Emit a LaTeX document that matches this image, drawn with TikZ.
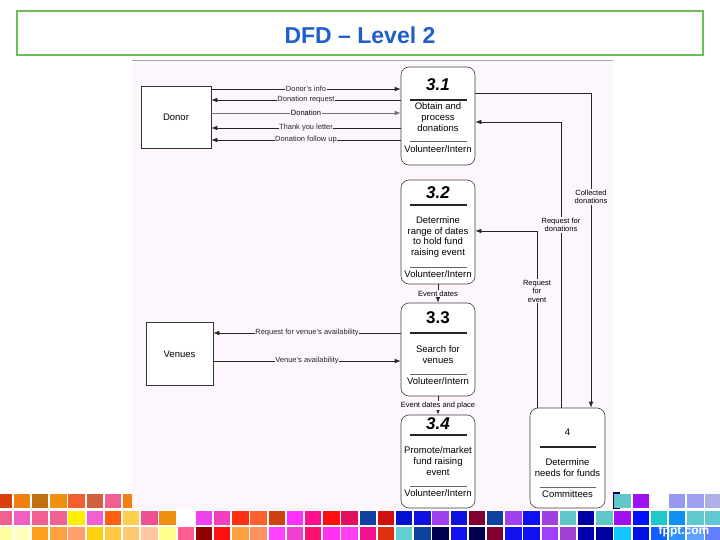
\documentclass[tikz,border=0pt]{standalone}
\usepackage{fontspec}
\setmainfont{Liberation Sans}
\usetikzlibrary{arrows.meta}
\definecolor{bg}{HTML}{FDF6FD}
\definecolor{titleblue}{HTML}{1F5FCC}
\definecolor{titlegreen}{HTML}{6CBF5A}
\definecolor{navy}{HTML}{000060}
\begin{document}
\begin{tikzpicture}[x=1pt,y=-1pt,
  extbox/.style={draw=black!80, line width=0.6pt, fill=white, minimum width=70pt, minimum height=62pt, inner sep=0pt, font=\fontsize{9.5}{11}\selectfont},
  procbox/.style={draw=black!75, line width=0.6pt, rounded corners=8pt, fill=white, minimum width=74pt, inner sep=0pt},
  pnum/.style={inner sep=0pt, font=\fontsize{17}{18}\selectfont\bfseries\itshape},
  ptext/.style={inner sep=0pt, align=center, font=\fontsize{9.5}{10.8}\selectfont},
  sepA/.style={line width=1.1pt, black!85},
  sepB/.style={line width=0.6pt, black!60},
  flow/.style={line width=0.6pt, black!85, -{Latex[length=6pt,width=4.5pt]}},
  lbl/.style={fill=bg, inner sep=0.6pt, align=center, font=\fontsize{7.5}{8.5}\selectfont},
  tile/.style={inner sep=0pt, minimum width=16.5pt, minimum height=14.5pt}
]
\useasboundingbox (0,0) rectangle (720,540);
\fill[white] (0,0) rectangle (720,540);

% ---------- mosaic ----------
\foreach \i/\c in {0/D84010,1/F08010,2/C07010,3/F09010,4/F06030,5/D06040,6/F06090,7/F08010}{
  \definecolor{tmpc}{HTML}{\c}
  \fill[tmpc] (-4.5+18.2*\i,494) rectangle ++(16.5,14);
}
\fill[navy] (612,492) rectangle (620,509);
\foreach \i/\c in {34/60C8C8,35/A010F0,36/FFFFFF,37/9898F0,38/A0A0F0,39/B0B0E8}{
  \definecolor{tmpc}{HTML}{\c}
  \fill[tmpc] (-4.5+18.2*\i,494) rectangle ++(16.5,14);
}
\foreach \i/\c in {0/F06090,1/F060C0,2/F06090,3/F06090,4/FFEE00,5/F060D0,6/FF6010,7/FFD050,8/F05090,9/F09010,
  10/FFFFFF,11/F040F0,12/F040C0,13/FF3010,14/FF6030,15/D04010,16/FF30FF,17/FF1090,18/FF1010,19/E01060,
  20/1040A0,21/D01010,22/0010D0,23/1010E0,24/A040F0,25/1010E0,26/800030,27/1040A0,28/A040F0,29/1010F0,
  30/A040E0,31/60C8C8,32/0000A0,33/60C8C8,34/A010F0,35/0010FF,36/20C8C8,37/1090F0,38/60C8D0,39/60C8D0}{
  \definecolor{tmpc}{HTML}{\c}
  \fill[tmpc] (-4.5+18.2*\i,510.5) rectangle ++(16.5,14.5);
}
\foreach \i/\c in {0/FFFFA0,1/FFFFC0,2/FFA020,3/FFA040,4/FFA070,5/FFD010,6/FFC840,7/FFC870,8/FFC8A0,9/FFFF90,
  10/FF6090,11/900000,12/FF1010,13/FFA040,14/FF9060,15/FF40FF,16/F040D0,17/FF1070,18/FF30F0,19/FF40F0,
  20/F01090,21/E03010,22/60D0D0,23/1040A0,24/000050,25/1010F0,26/000050,27/800030,28/1010F0,29/1010F0,
  30/A040FF,31/A040D0,32/0000B0,33/0000A0,34/10C8FF,35/0010E0,36/1060FF,37/3090FF,38/60A0FF,39/6080FF}{
  \definecolor{tmpc}{HTML}{\c}
  \fill[tmpc] (-4.5+18.2*\i,527) rectangle ++(16.5,14);
}
\node[inner sep=0pt, text=white, font=\fontsize{12}{13}\selectfont\bfseries] (fppt) at (684,531) {fppt.com};

% ---------- title ----------
\draw[titlegreen, line width=1.8pt] (17,11) rectangle (703,55);
\node[text=titleblue, font=\fontsize{23}{25}\selectfont\bfseries] (title) at (360,35.5) {DFD – Level 2};

% ---------- diagram background ----------
\fill[bg] (132,60) rectangle (613,509);
\draw[black!35, line width=1pt] (132,60.5) -- (613,60.5);

% ---------- external entities ----------
\node[extbox] (donor) at (176,117) {Donor};
\node[extbox, minimum width=67pt, minimum height=63pt] (venues) at (179.5,354) {Venues};

% ---------- processes ----------
% 3.1
\node[procbox, minimum height=98pt] (p31) at (438,116) {};
\node[pnum] (p31n) at (438,85) {3.1};
\draw[sepA] (410,100) -- (467,100);
\node[ptext] (p31t) at (438,117) {Obtain and\\process\\donations};
\draw[sepB] (410,141) -- (467,141);
\node[ptext] (p31v) at (438,149) {Volunteer/Intern};
% 3.2
\node[procbox, minimum height=104pt] (p32) at (438,232) {};
\node[pnum] (p32n) at (438,193) {3.2};
\draw[sepA] (410,205) -- (467,205);
\node[ptext] (p32t) at (438,237) {Determine\\range of dates\\to hold fund\\raising event};
\draw[sepB] (410,267) -- (467,267);
\node[ptext] (p32v) at (438,274) {Volunteer/Intern};
% 3.3
\node[procbox, minimum height=93pt] (p33) at (438,349.5) {};
\node[pnum, font=\fontsize{17}{18}\selectfont\bfseries] (p33n) at (438,318) {3.3};
\draw[sepA] (410,333) -- (467,333);
\node[ptext] (p33t) at (438,354.5) {Search for\\venues};
\draw[sepB] (410,374) -- (467,374);
\node[ptext] (p33v) at (438,381) {Voluteer/Intern};
% 3.4
\node[procbox, minimum height=93pt] (p34) at (438,461.5) {};
\node[pnum] (p34n) at (438,424) {3.4};
\draw[sepA] (410,435) -- (467,435);
\node[ptext] (p34t) at (438,461) {Promote/market\\fund raising\\event};
\draw[sepB] (410,486) -- (467,486);
\node[ptext] (p34v) at (438,493) {Volunteer/Intern};
% 4
\node[procbox, minimum width=75pt, minimum height=100pt] (p4) at (567.5,458) {};
\node[ptext] (p4n) at (567.5,432) {4};
\draw[sepA] (540,447) -- (596,447);
\node[ptext] (p4t) at (567.5,468) {Determine\\needs for funds};
\draw[sepB] (540,487) -- (596,487);
\node[ptext] (p4v) at (567.5,494) {Committees};

% ---------- donor flows ----------
\draw[flow] (donor.east |- 0,89) -- node[lbl] (l1) {Donor's info} (p31.west |- 0,89);
\draw[flow] (p31.west |- 0,100) -- node[lbl] (l2) {Donation request} (donor.east |- 0,100);
\draw[flow, black!55] (donor.east |- 0,113) -- node[lbl, text=black] (l3) {Donation} (p31.west |- 0,113);
\draw[flow] (p31.west |- 0,128) -- node[lbl] (l4) {Thank you letter} (donor.east |- 0,128);
\draw[flow] (p31.west |- 0,140) -- node[lbl] (l5) {Donation follow up} (donor.east |- 0,140);

% ---------- venue flows ----------
\draw[flow] (p33.west |- 0,333) -- node[lbl] (l6) {Request for venue's availability} (venues.east |- 0,333);
\draw[flow] (venues.east |- 0,361) -- node[lbl] (l7) {Venue's availability} (p33.west |- 0,361);

% ---------- vertical flows ----------
\draw[flow] (p32.south) -- (p33.north);
\node[lbl] (l8) at (438,293.5) {Event dates};
\draw[flow] (p33.south) -- (p34.north);
\node[lbl] (l9) at (438,405.5) {Event dates and place};

% ---------- committee flows ----------
\draw[flow] (p31.east |- 0,93) -- (591,93) -- (p4.north -| 591,0);
\node[lbl] (l10) at (591,197) {Collected\\donations};
\draw[flow] (p4.north -| 561,0) -- (561,122) -- (p31.east |- 0,122);
\node[lbl] (l11) at (561,225) {Request for\\donations};
\draw[flow] (p4.north -| 537,0) -- (537,231) -- (p32.east |- 0,231);
\node[lbl] (l12) at (537,291) {Request\\for\\event};
\end{tikzpicture}
\end{document}
